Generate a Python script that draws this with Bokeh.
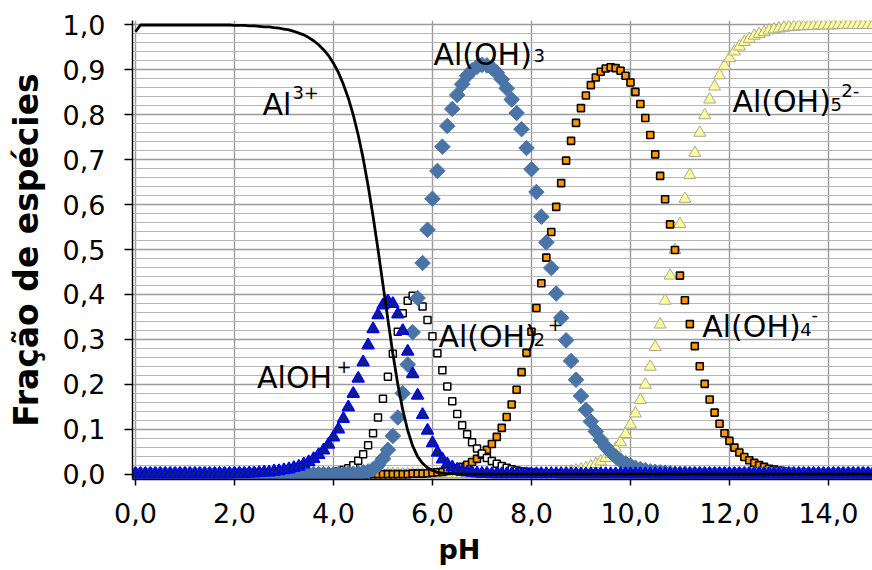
from bokeh.plotting import figure
from bokeh.models import Range1d, FixedTicker, Label, ColumnDataSource, CustomJSTickFormatter, Title
from bokeh.embed import file_html
from bokeh.resources import INLINE
import math

# pH grid (0.0 .. 15.0, step 0.1)
pH = [round(i * 0.1, 1) for i in range(151)]

z10 = [0.0] * 10

al3 = ([0.985, 1.0, 1.0, 1.0, 1.0, 1.0, 1.0, 1.0, 1.0, 1.0]
       + [1.0] * 10
       + [0.999, 0.999, 0.999, 0.998, 0.998, 0.997, 0.996, 0.996, 0.994, 0.993]
       + [0.991, 0.989, 0.986, 0.982, 0.978, 0.972, 0.965, 0.956, 0.945, 0.932]
       + [0.915, 0.894, 0.868, 0.837, 0.800, 0.755, 0.703, 0.642, 0.574, 0.500]
       + [0.422, 0.344, 0.268, 0.200, 0.143, 0.097, 0.063, 0.039, 0.024, 0.014]
       + [0.008, 0.004, 0.002, 0.001, 0.001, 0.0, 0.0, 0.0, 0.0, 0.0]
       + z10 * 8 + [0.0])

aloh = (z10 * 2
        + [0.001, 0.001, 0.001, 0.002, 0.002, 0.003, 0.004, 0.004, 0.006, 0.007]
        + [0.009, 0.011, 0.014, 0.017, 0.022, 0.027, 0.034, 0.043, 0.053, 0.066]
        + [0.082, 0.100, 0.123, 0.149, 0.179, 0.213, 0.249, 0.287, 0.323, 0.354]
        + [0.376, 0.385, 0.379, 0.356, 0.319, 0.273, 0.223, 0.175, 0.132, 0.097]
        + [0.069, 0.048, 0.033, 0.022, 0.015, 0.010, 0.006, 0.004, 0.003, 0.002]
        + [0.001, 0.001, 0.0, 0.0, 0.0, 0.0, 0.0, 0.0, 0.0, 0.0]
        + z10 * 7 + [0.0])

aloh2 = (z10 * 3
         + [0.0, 0.0, 0.0, 0.0, 0.0, 0.0, 0.001, 0.001, 0.002, 0.002]
         + [0.004, 0.006, 0.009, 0.013, 0.020, 0.030, 0.044, 0.064, 0.091, 0.126]
         + [0.168, 0.217, 0.268, 0.317, 0.358, 0.386, 0.397, 0.392, 0.373, 0.343]
         + [0.307, 0.269, 0.231, 0.195, 0.162, 0.134, 0.109, 0.089, 0.071, 0.057]
         + [0.046, 0.036, 0.029, 0.023, 0.018, 0.014, 0.011, 0.008, 0.006, 0.005]
         + [0.003, 0.003, 0.002, 0.001, 0.001, 0.001, 0.0, 0.0, 0.0, 0.0]
         + z10 * 6 + [0.0])

aloh3 = (z10 * 4
         + [0.0, 0.0, 0.0, 0.001, 0.001, 0.002, 0.004, 0.006, 0.011, 0.020]
         + [0.034, 0.054, 0.085, 0.126, 0.180, 0.244, 0.316, 0.392, 0.470, 0.544]
         + [0.613, 0.675, 0.729, 0.775, 0.813, 0.844, 0.868, 0.887, 0.899, 0.907]
         + [0.911, 0.910, 0.904, 0.894, 0.879, 0.859, 0.834, 0.804, 0.768, 0.726]
         + [0.679, 0.628, 0.573, 0.516, 0.459, 0.402, 0.348, 0.298, 0.252, 0.210]
         + [0.174, 0.143, 0.117, 0.095, 0.076, 0.061, 0.049, 0.039, 0.030, 0.024]
         + [0.019, 0.014, 0.011, 0.009, 0.006, 0.005, 0.004, 0.003, 0.002, 0.001]
         + [0.001, 0.001, 0.0, 0.0, 0.0, 0.0, 0.0, 0.0, 0.0, 0.0]
         + z10 * 3 + [0.0])

aloh4 = (z10 * 5
         + [0.0, 0.0, 0.0, 0.0, 0.0, 0.0, 0.001, 0.001, 0.001, 0.002]
         + [0.003, 0.004, 0.005, 0.007, 0.010, 0.013, 0.016, 0.021, 0.027, 0.034]
         + [0.043, 0.054, 0.067, 0.083, 0.103, 0.127, 0.155, 0.188, 0.227, 0.270]
         + [0.317, 0.370, 0.425, 0.482, 0.539, 0.595, 0.648, 0.698, 0.742, 0.782]
         + [0.815, 0.843, 0.866, 0.883, 0.896, 0.903, 0.906, 0.904, 0.898, 0.887]
         + [0.872, 0.851, 0.824, 0.793, 0.755, 0.712, 0.664, 0.612, 0.556, 0.499]
         + [0.442, 0.387, 0.334, 0.285, 0.240, 0.201, 0.166, 0.137, 0.112, 0.091]
         + [0.074, 0.059, 0.048, 0.038, 0.031, 0.025, 0.020, 0.016, 0.012, 0.010]
         + [0.008, 0.006, 0.005, 0.004, 0.003, 0.003, 0.002, 0.002, 0.001, 0.001]
         + [0.001, 0.001, 0.0, 0.0, 0.0, 0.0, 0.0, 0.0, 0.0, 0.0]
         + [0.0])

aloh5 = (z10 * 8
         + [0.0, 0.001, 0.001, 0.001, 0.002, 0.002, 0.003, 0.004, 0.006, 0.008]
         + [0.010, 0.013, 0.017, 0.022, 0.028, 0.036, 0.045, 0.057, 0.071, 0.089]
         + [0.110, 0.135, 0.165, 0.199, 0.239, 0.283, 0.333, 0.386, 0.442, 0.499]
         + [0.557, 0.613, 0.666, 0.715, 0.760, 0.799, 0.834, 0.863, 0.888, 0.909]
         + [0.926, 0.941, 0.952, 0.962, 0.969, 0.976, 0.980, 0.984, 0.988, 0.990]
         + [0.992, 0.994, 0.995, 0.996, 0.997, 0.997, 0.998, 0.998, 0.999, 0.999]
         + [0.999, 0.999, 1.0, 1.0, 1.0, 1.0, 1.0, 1.0, 1.0, 1.0]
         + [1.0])

x_ticks = [0, 2, 4, 6, 8, 10, 12, 14]
y_ticks = [0.0, 0.1, 0.2, 0.3, 0.4, 0.5, 0.6, 0.7, 0.8, 0.9, 1.0]
y_minor = [round(i * 0.02, 2) for i in range(51)]

x_title = "pH"
y_title = "Fração de espécies"

src = ColumnDataSource(dict(pH=pH, al3=al3, aloh=aloh, aloh2=aloh2,
                            aloh3=aloh3, aloh4=aloh4, aloh5=aloh5))

FONT = "DejaVu Sans"

p = figure(width=872, height=570, x_range=Range1d(-0.06, 14.89), y_range=Range1d(-0.012, 1.01),
           output_backend="svg", toolbar_location=None,
           min_border_left=132, min_border_right=0, min_border_top=20, min_border_bottom=90)
p.outline_line_color = None
p.background_fill_color = "white"
p.border_fill_color = "white"

p.xaxis.ticker = FixedTicker(ticks=x_ticks)
p.yaxis.ticker = FixedTicker(ticks=y_ticks, minor_ticks=y_minor)
fmt = "return tick.toFixed(1).replace('.', ',');"
p.xaxis.formatter = CustomJSTickFormatter(code=fmt)
p.yaxis.formatter = CustomJSTickFormatter(code=fmt)

for ax in (p.xaxis, p.yaxis):
    ax.axis_line_color = "black"
    ax.axis_line_width = 1.5
    ax.major_tick_line_color = "black"
    ax.major_tick_line_width = 1.5
    ax.major_tick_in = 0
    ax.minor_tick_line_color = None
    ax.major_label_text_font = FONT
    ax.major_label_text_font_size = "27px"
    ax.major_label_text_color = "black"
p.yaxis.major_tick_out = 8
p.yaxis.major_label_standoff = 19
p.xaxis.major_tick_out = 6
p.xaxis.major_label_standoff = 17

p.yaxis.axis_label = y_title
p.yaxis.axis_label_text_font = FONT
p.yaxis.axis_label_text_font_size = "33px"
p.yaxis.axis_label_text_font_style = "bold"
p.yaxis.axis_label_text_color = "black"
p.yaxis.axis_label_standoff = 14

p.add_layout(Title(text=x_title, align="left", offset=306, text_font=FONT,
                   text_font_size="27px", text_font_style="bold", text_color="black",
                   standoff=12), "below")

p.xgrid.grid_line_color = "#9a9a9a"
p.xgrid.grid_line_width = 1.4
p.ygrid.grid_line_color = "#9a9a9a"
p.ygrid.grid_line_width = 1.4
p.ygrid.minor_grid_line_color = "#b8b8b8"
p.ygrid.minor_grid_line_width = 1.2

# series (drawn bottom to top)
p.scatter('pH', 'aloh5', source=src, marker="triangle", size=12,
          fill_color="#FFFF99", line_color="#a8a89a", line_width=1)
p.scatter('pH', 'aloh4', source=src, marker="square", size=7,
          fill_color="#FF9900", line_color="black", line_width=1.6)
p.scatter('pH', 'aloh2', source=src, marker="square", size=7,
          fill_color="white", line_color="black", line_width=1.5)
p.scatter('pH', 'aloh3', source=src, marker="square", size=11, angle=math.pi / 4,
          fill_color="#4a74a8", line_color="#4a74a8", line_width=1)
p.scatter('pH', 'aloh', source=src, marker="triangle", size=12,
          fill_color="#10207a", line_color="#0000ff", line_width=1.5)
p.line('pH', 'al3', source=src, line_color="black", line_width=2.8)


def lab(x, y, text, size, **kw):
    p.add_layout(Label(x=x, y=y, text=text, text_font=FONT, text_font_size=size,
                       text_color="black", text_baseline="alphabetic", **kw))


MAIN = "30px"
SUB = "18px"
# Al3+
lab(2.566, 0.822, "Al", MAIN)
lab(3.17, 0.85, "3+", SUB)
# Al(OH)3
lab(6.02, 0.935, "Al(OH)", MAIN)
lab(8.04, 0.933, "3", SUB)
# Al(OH)5 2-
lab(12.06, 0.829, "Al(OH)", MAIN)
lab(14.04, 0.822, "5", SUB)
lab(14.26, 0.855, "2-", SUB)
# Al(OH)4 -
lab(11.45, 0.329, "Al(OH)", MAIN)
lab(13.43, 0.321, "4", SUB)
lab(13.66, 0.356, "-", SUB)
# Al(OH)2 +
lab(6.12, 0.307, "Al(OH)", MAIN)
lab(8.04, 0.299, "2", SUB)
lab(8.33, 0.333, "+", SUB)
# AlOH+
lab(2.457, 0.214, "AlOH", MAIN)
lab(4.06, 0.239, "+", SUB)

open("out.html", "w").write(file_html(p, INLINE))
